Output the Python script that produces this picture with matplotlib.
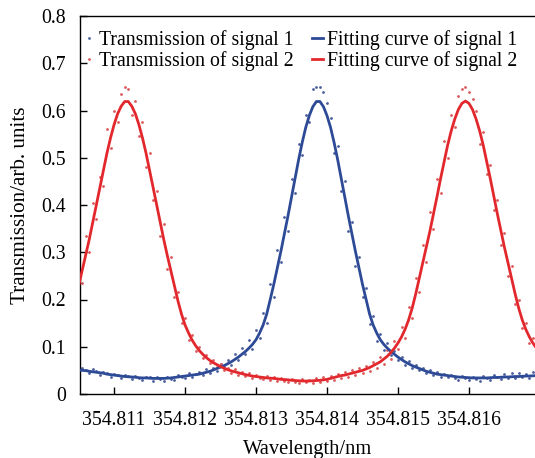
import numpy as np
import matplotlib
matplotlib.use("Agg")
import matplotlib.pyplot as plt

# ---------------- data ----------------
# uniformly sampled wavelength grid (nm)
wavelength = np.linspace(354.8105, 354.8170, 131)

fit_signal1 = [
    .051, .050, .0495, .048, .047, .046, .045, .044, .042, .041,
    .040, .039, .038, .037, .0365, .036, .0355, .0345, .034, .034,
    .0335, .033, .033, .033, .033, .0335, .034, .035, .036, .037,
    .038, .039, .040, .041, .042, .044, .046, .048, .051, .054,
    .057, .060, .064, .068, .073, .078, .084, .090, .097, .105,
    .115, .129, .146, .169, .200, .232, .267, .302, .339, .377,
    .417, .457, .496, .532, .564, .589, .608, .619, .619, .608,
    .589, .564, .532, .496, .457, .417, .377, .339, .302, .267,
    .232, .200, .169, .146, .129, .115, .105, .097, .090, .084,
    .078, .073, .068, .064, .060, .057, .054, .051, .048, .046,
    .044, .042, .041, .040, .039, .038, .037, .036, .0355, .035,
    .0345, .034, .034, .034, .034, .034, .0345, .035, .035, .0355,
    .036, .036, .0365, .037, .037, .0375, .038, .038, .0385, .039,
    .039,
]

fit_signal2 = [
    .228, .261, .293, .327, .363, .400, .437, .474, .510, .542,
    .570, .593, .609, .619, .619, .609, .593, .570, .542, .510,
    .474, .437, .400, .363, .327, .293, .261, .228, .197, .169,
    .146, .129, .114, .102, .092, .084, .077, .071, .066, .062,
    .058, .0545, .0515, .049, .047, .045, .043, .041, .0395, .038,
    .037, .036, .035, .034, .0335, .033, .032, .031, .0305, .030,
    .029, .0285, .028, .0275, .0275, .0275, .028, .0285, .029, .030,
    .031, .033, .035, .037, .039, .040, .042, .044, .046, .048,
    .050, .053, .056, .060, .064, .068, .074, .080, .088, .097,
    .108, .121, .137, .157, .182, .212, .245, .277, .310, .345,
    .381, .418, .456, .492, .527, .557, .582, .602, .615, .620,
    .615, .602, .582, .557, .527, .492, .456, .418, .381, .345,
    .310, .277, .245, .212, .182, .157, .137, .121, .108, .097,
    .088,
]

trans_signal1 = [
    .047, .055, .050, .044, .052, .049, .040, .046, .045, .036,
    .043, .041, .033, .040, .038, .031, .038, .033, .029, .037,
    .035, .028, .036, .031, .027, .037, .032, .030, .040, .035,
    .033, .045, .036, .043, .047, .040, .052, .045, .055, .048,
    .064, .057, .072, .061, .085, .072, .097, .084, .115, .096,
    .135, .118, .172, .150, .232, .205, .305, .280, .375, .345,
    .455, .425, .530, .505, .590, .575, .645, .650, .650, .640,
    .615, .585, .510, .525, .430, .450, .345, .365, .270, .290,
    .205, .225, .148, .165, .112, .128, .094, .108, .082, .092,
    .071, .079, .062, .069, .055, .062, .050, .055, .044, .050,
    .040, .046, .037, .043, .035, .041, .034, .030, .039, .033,
    .029, .037, .031, .028, .038, .033, .030, .040, .036, .031,
    .042, .034, .044, .033, .045, .036, .043, .034, .046, .037,
    .041,
]

trans_signal2 = [
    .250, .235, .335, .300, .405, .370, .460, .440, .560, .520,
    .600, .575, .635, .650, .645, .590, .620, .545, .575, .480,
    .510, .410, .430, .335, .360, .265, .290, .205, .215, .150,
    .160, .115, .125, .092, .100, .077, .083, .065, .072, .057,
    .063, .050, .056, .045, .052, .041, .047, .038, .044, .034,
    .040, .033, .031, .038, .030, .035, .028, .034, .027, .025,
    .032, .026, .023, .031, .025, .029, .024, .033, .026, .035,
    .027, .038, .030, .042, .034, .046, .037, .050, .040, .055,
    .044, .060, .049, .068, .055, .078, .064, .094, .075, .112,
    .095, .142, .118, .185, .160, .245, .215, .315, .280, .385,
    .350, .455, .425, .535, .500, .590, .565, .630, .645, .650,
    .640, .625, .600, .530, .555, .465, .485, .390, .410, .315,
    .340, .250, .270, .190, .200, .140, .150, .108, .118, .088,
    .095,
]

xtick_values = [354.811, 354.812, 354.813, 354.814, 354.815, 354.816]
xtick_labels = ["354.811", "354.812", "354.813", "354.814", "354.815", "354.816"]
ytick_values = [0, 0.1, 0.2, 0.3, 0.4, 0.5, 0.6, 0.7, 0.8]
ytick_labels = ["0", "0.1", "0.2", "0.3", "0.4", "0.5", "0.6", "0.7", "0.8"]

# ---------------- style ----------------
plt.rcParams["font.family"] = ["Liberation Serif", "DejaVu Serif"]

BLUE = "#2d4a97"
RED = "#e2282d"
BLUE_DOT = "#4a5e9e"
RED_DOT = "#d9595b"

W, H = 535, 458
fig = plt.figure(figsize=(W / 100, H / 100), dpi=100)
ax = fig.add_axes([80 / W, 1 - 394 / H, 1 - 80 / W, (394 - 16) / H])

ax.plot(wavelength, trans_signal1, linestyle="none", marker="o", markersize=2.0,
        color=BLUE_DOT, markeredgewidth=0, label="Transmission of signal 1", zorder=2)
ax.plot(wavelength, trans_signal2, linestyle="none", marker="o", markersize=2.0,
        color=RED_DOT, markeredgewidth=0, label="Transmission of signal 2", zorder=2)
ax.plot(wavelength, fit_signal1, color=BLUE, lw=2.0, label="Fitting curve of signal 1", zorder=3)
ax.plot(wavelength, fit_signal2, color=RED, lw=2.0, label="Fitting curve of signal 2", zorder=3)

ax.set_xlim(354.81052, 354.81693)
ax.set_ylim(0, 0.8)
ax.set_xticks(xtick_values)
ax.set_xticklabels(xtick_labels)
ax.set_yticks(ytick_values)
ax.set_yticklabels(ytick_labels)

ax.spines["right"].set_visible(False)
for s in ["left", "bottom", "top"]:
    ax.spines[s].set_linewidth(1.0)
ax.tick_params(axis="both", direction="in", length=5, width=1.0, labelsize=14.2)
ax.tick_params(axis="x", pad=12, top=False)
ax.tick_params(axis="y", pad=10, right=False)

ax.set_xlabel("Wavelength/nm", fontsize=14.8, labelpad=7.5)
ax.set_ylabel("Transmission/arb. units", fontsize=15.2, labelpad=8)

leg = ax.legend(ncol=2, loc="upper left", bbox_to_anchor=(83.5 / W, 1 - 30 / H),
                bbox_transform=fig.transFigure, frameon=False, fontsize=14.2,
                handlelength=0.6, handletextpad=0.2, columnspacing=0.9,
                borderpad=0, borderaxespad=0, labelspacing=0.05, numpoints=1,
                markerscale=1.0)

fig.savefig("out.png", dpi=100)
